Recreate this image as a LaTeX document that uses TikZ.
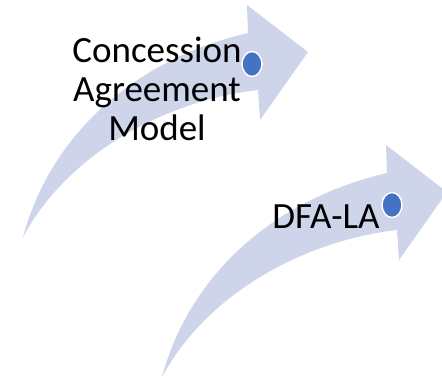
\documentclass[tikz,border=0pt]{standalone}
\usepackage{fontspec}
\setmainfont{Carlito}
\usetikzlibrary{shapes.geometric}
\definecolor{arrowfill}{RGB}{206,213,234}
\definecolor{dotblue}{RGB}{68,114,196}
\tikzstyle{bendArrow}=[fill=arrowfill,draw=none]
\tikzstyle{stepDot}=[ellipse,fill=dotblue,draw=white,line width=1.5pt,minimum width=20pt,minimum height=25pt,inner sep=0pt]
\tikzstyle{stepText}=[align=center,inner sep=0pt,font=\fontsize{37}{39}\selectfont]

\begin{document}
\begin{tikzpicture}[x=1pt,y=-1pt]

    \useasboundingbox (0,0) rectangle (442,378);
    \clip (0,0) rectangle (442,378);

    \fill[bendArrow] (23,237) .. controls (52,130) and (140,58) .. (248,33)
        -- (247,5) -- (308,52) -- (260,120) -- (258,90)
        .. controls (170,100) and (70,150) .. (23,237) -- cycle;
    \begin{scope}[shift={(139,140)}]
        \fill[bendArrow] (23,237) .. controls (52,130) and (140,58) .. (248,33)
            -- (247,5) -- (308,52) -- (260,120) -- (258,90)
            .. controls (170,100) and (70,150) .. (23,237) -- cycle;
    \end{scope}

    \node[stepText,anchor=base] (t1) at (157,140) {Concession\\Agreement\\Model};
    \node[stepText,anchor=base] (t2) at (326,228) {DFA-LA};

    \node[stepDot] (d1) at (252,64) {};
    \node[stepDot] (d2) at (392,205) {};

\end{tikzpicture}
\end{document}
